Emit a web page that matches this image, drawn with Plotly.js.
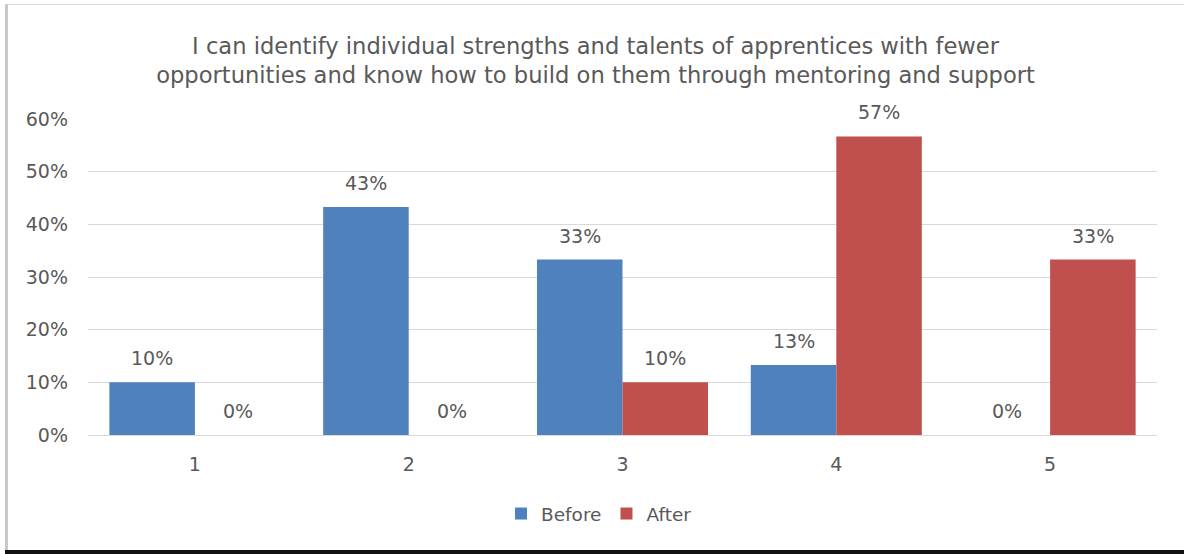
<!DOCTYPE html>
<html>
<head>
<meta charset="utf-8">
<script src="https://cdn.plot.ly/plotly-3.0.1.min.js"></script>
<style>
  html, body { margin: 0; padding: 0; background: #ffffff; }
  #wrap { position: relative; width: 1184px; height: 554px; overflow: hidden; background: #ffffff; }
  #frame { position: absolute; left: 5px; top: 4px; width: 1190px; height: 546px; border-left: 3px solid #c8c8c8; border-top: 1px solid #d9d9d9; box-sizing: border-box; }
  #bottom { position: absolute; left: 5px; top: 550px; width: 1184px; height: 4px; background: #111111; }
  #chart { position: absolute; left: 0; top: 0; width: 1184px; height: 554px; }
</style>
</head>
<body>
<div id="wrap">
  <div id="frame"></div>
  <div id="bottom"></div>
  <div id="chart"></div>
</div>
<script>
const categories = ["1", "2", "3", "4", "5"];
const beforeValues = [10, 43.3, 33.3, 13.3, 0];
const afterValues = [0, 0, 10, 56.7, 33.3];
const yTickValues = [0, 10, 20, 30, 40, 50, 60];
const yTickLabels = ["0%", "10%", "20%", "30%", "40%", "50%", "60%"];

const fontFamily = "'DejaVu Sans', Verdana, sans-serif";
const labelColor = "#595959";
const groupShift = 42.8; // half a bar width in px

function pctLabel(v) { return Math.round(v) + "%"; }

const traces = [
  { type: "bar", name: "Before", x: categories, y: beforeValues,
    marker: { color: "#4F81BD" }, hoverinfo: "skip" },
  { type: "bar", name: "After", x: categories, y: afterValues,
    marker: { color: "#C0504D" }, hoverinfo: "skip" }
];

const annotations = [];
[[beforeValues, -groupShift], [afterValues, groupShift]].forEach(([vals, shift]) => {
  vals.forEach((v, i) => {
    annotations.push({
      x: i, y: v, xref: "x", yref: "y",
      text: pctLabel(v), showarrow: false,
      xanchor: "center", yanchor: "middle",
      xshift: shift, yshift: 24,
      font: { family: fontFamily, size: 19, color: labelColor }
    });
  });
});

const layout = {
  width: 1184, height: 554,
  paper_bgcolor: "rgba(0,0,0,0)", plot_bgcolor: "rgba(0,0,0,0)",
  margin: { l: 88, r: 27, t: 119, b: 119 },
  barmode: "group", bargap: 0.2, bargroupgap: 0,
  font: { family: fontFamily, size: 19, color: labelColor },
  title: {
    text: "I can identify individual strengths and talents of apprentices with fewer<br>opportunities and know how to build on them through mentoring and support",
    font: { family: fontFamily, size: 22.6, color: labelColor },
    x: 0.503, xanchor: "center", y: 0.903, yanchor: "middle"
  },
  xaxis: {
    type: "category", range: [-0.5, 4.5], showgrid: false, zeroline: false,
    showline: true, linecolor: "#d9d9d9", linewidth: 1,
    ticks: "", tickfont: { family: fontFamily, size: 19, color: labelColor },
    ticklabelstandoff: 12
  },
  yaxis: {
    range: [0, 60], tickvals: yTickValues, ticktext: yTickLabels,
    showgrid: true, gridcolor: "#d9d9d9", gridwidth: 1,
    zeroline: false, showline: false, ticks: "",
    tickfont: { family: fontFamily, size: 19, color: labelColor },
    ticklabelstandoff: 19
  },
  annotations: annotations,
  showlegend: true,
  legend: {
    orientation: "h", x: 0.478, xanchor: "center", y: -0.25, yanchor: "middle",
    font: { family: fontFamily, size: 18.5, color: labelColor },
    itemwidth: 30, traceorder: "normal"
  }
};

Plotly.newPlot("chart", traces, layout, { displayModeBar: false, staticPlot: true });
</script>
</body>
</html>
